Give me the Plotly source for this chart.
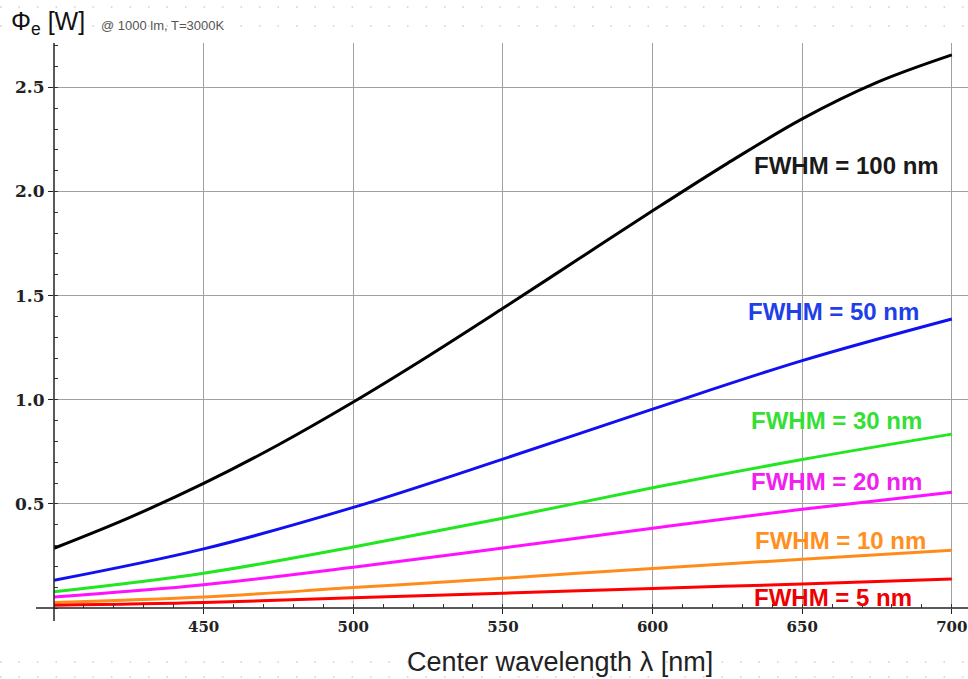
import plotly.graph_objects as go

# ---- data ----
wl100 = [400, 425, 450, 475, 500, 525, 550, 575, 600, 625, 650, 675, 700]
fwhm100 = [0.287, 0.433, 0.598, 0.784, 0.989, 1.209, 1.439, 1.673, 1.907, 2.135, 2.349, 2.524, 2.656]

wl = [400, 450, 500, 550, 600, 650, 700]
fwhm50 = [0.133, 0.284, 0.483, 0.715, 0.955, 1.188, 1.388]
fwhm30 = [0.078, 0.167, 0.293, 0.431, 0.577, 0.713, 0.835]
fwhm20 = [0.053, 0.112, 0.196, 0.288, 0.383, 0.474, 0.556]
fwhm10 = [0.027, 0.053, 0.098, 0.143, 0.190, 0.234, 0.277]
fwhm5 = [0.013, 0.026, 0.049, 0.071, 0.094, 0.115, 0.139]

labels = ["FWHM = 100 nm", "FWHM = 50 nm", "FWHM = 30 nm", "FWHM = 20 nm", "FWHM = 10 nm", "FWHM = 5 nm"]
colors = ["#000000", "#1010f0", "#22e622", "#ff10ff", "#ff8c1a", "#ff0000"]
label_colors = ["#1a1a1a", "#1f3fe8", "#33e033", "#f020f0", "#ff9020", "#ee0000"]
# label anchor positions (x in reference pixels, y in data units)
label_x = [846, 833, 836, 836, 840, 833]
label_y = [2.127, 1.425, 0.9, 0.607, 0.322, 0.05]

xticks = [450, 500, 550, 600, 650, 700]
yticks = [0.5, 1.0, 1.5, 2.0, 2.5]
ytick_text = ["0.5", "1.0", "1.5", "2.0", "2.5"]

W, H = 968, 679
ML, MR, MT = 54, 0, 43
PLOT_BOTTOM = 608
MB = H - PLOT_BOTTOM
PW = W - ML - MR
PH = H - MT - MB

def px(xp):
    return (xp - ML) / PW

def py(yp):
    return (PLOT_BOTTOM - yp) / PH

fig = go.Figure()
series = [(wl100, fwhm100), (wl, fwhm50), (wl, fwhm30), (wl, fwhm20), (wl, fwhm10), (wl, fwhm5)]
for (xs, ys), c in zip(series, colors):
    fig.add_trace(go.Scatter(x=xs, y=ys, mode="lines", line=dict(color=c, width=3, shape="spline", smoothing=1.0),
                             showlegend=False, hoverinfo="skip", cliponaxis=False))

annotations = []
for t, c, lx, ly in zip(labels, label_colors, label_x, label_y):
    annotations.append(dict(x=px(lx), y=ly, xref="paper", yref="y", text="<b>" + t + "</b>", showarrow=False,
                            xanchor="center", yanchor="middle",
                            font=dict(family="Liberation Sans, Arial", size=24, color=c)))

annotations.append(dict(x=px(9), y=py(5), xref="paper", yref="paper", text="Φ<sub>e</sub> [W]", showarrow=False,
                        xanchor="left", yanchor="top",
                        font=dict(family="Liberation Sans, Arial", size=25, color="#111111")))
annotations.append(dict(x=px(99), y=py(25), xref="paper", yref="paper", text="@ 1000 lm, T=3000K", showarrow=False,
                        xanchor="left", yanchor="middle",
                        font=dict(family="Liberation Sans, Arial", size=13, color="#555555")))
annotations.append(dict(x=px(560), y=py(662), xref="paper", yref="paper", text="Center wavelength λ [nm]", showarrow=False,
                        xanchor="center", yanchor="middle",
                        font=dict(family="Liberation Sans, Arial", size=27, color="#222222")))

shapes = [
    # x axis line (extends left of the y axis)
    dict(type="line", xref="paper", yref="paper", x0=px(36), x1=1.0, y0=0, y1=0,
         line=dict(color="#222222", width=1.5)),
    # y axis line (extends slightly below the x axis)
    dict(type="line", xref="paper", yref="paper", x0=0, x1=0, y0=py(621), y1=1.0,
         line=dict(color="#222222", width=1.5)),
]
# faint dotted decoration rows (page background)
for ypix in [7, 26, 662, 677]:
    shapes.append(dict(type="line", xref="paper", yref="paper", x0=px(0), x1=px(968), y0=py(ypix), y1=py(ypix),
                       line=dict(color="#d0d0d0", width=1.5, dash="1.5px,17px"), layer="below"))

fig.update_layout(
    width=W, height=H,
    margin=dict(l=ML, r=MR, t=MT, b=MB),
    paper_bgcolor="white", plot_bgcolor="white",
    annotations=annotations, shapes=shapes,
    xaxis=dict(range=[400, 705.4], tickvals=xticks, ticks="outside", ticklen=5, tickcolor="#222222",
               showgrid=True, gridcolor="#a0a0a0", gridwidth=1, zeroline=False, showline=False,
               ticklabeloverflow="allow",
               minor=dict(dtick=10, tick0=400, ticks="inside", ticklen=4, tickcolor="#333333", showgrid=False),
               tickfont=dict(family="DejaVu Serif", size=15, color="#222222", weight="bold")),
    yaxis=dict(range=[0, 2.713], tickvals=yticks, ticktext=ytick_text, ticks="outside", ticklen=5, tickcolor="#222222",
               showgrid=True, gridcolor="#a0a0a0", gridwidth=1, zeroline=False, showline=False,
               minor=dict(dtick=0.1, tick0=0, ticks="inside", ticklen=4, tickcolor="#333333", showgrid=False),
               tickfont=dict(family="DejaVu Serif", size=17, color="#222222", weight="bold")),
)

fig.write_html("out.html", config={"displayModeBar": False},
               post_script="document.body.style.margin='0px'; document.body.style.overflow='hidden';")
